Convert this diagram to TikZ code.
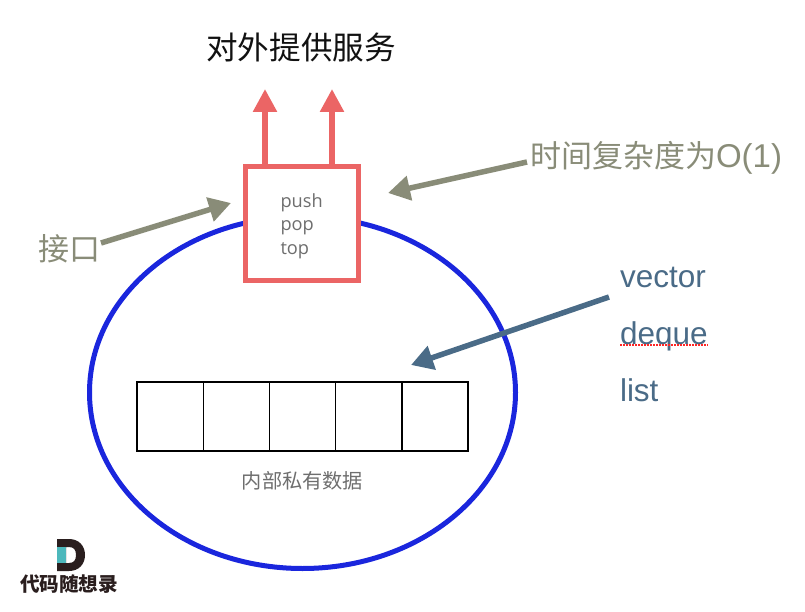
\documentclass[tikz,border=0pt]{standalone}
\usepackage{fontspec}
\setmainfont{Liberation Sans}
\newfontfamily\cjk{Noto Sans CJK SC}
\newfontfamily\labelfont{Open Sans}
\usetikzlibrary{arrows.meta,positioning,shapes.geometric}
\definecolor{ink}{HTML}{111111}
\definecolor{olive}{HTML}{898C78}
\definecolor{slate}{HTML}{4A6B87}
\definecolor{coral}{HTML}{EB6565}
\definecolor{ring}{HTML}{1A26DD}
\definecolor{muted}{HTML}{6E6E6E}
\definecolor{logoDark}{HTML}{2A1E1E}
\definecolor{logoTeal}{HTML}{4DB8BC}
\tikzset{
  base/.style={inner sep=0pt, outer sep=0pt},
  title/.style={base, font=\cjk\fontsize{31.6}{36}\selectfont, text=ink},
  note/.style={base, font=\cjk\fontsize{31}{36}\selectfont, text=olive},
  impl/.style={base, font=\fontsize{31.5}{36}\selectfont, text=slate, anchor=west},
  small/.style={base, font=\cjk\fontsize{20.2}{24}\selectfont, text=muted},
  cell/.style={base, draw=black, line width=1.4pt, minimum width=66.2pt, minimum height=69pt},
  iface/.style={base, draw=coral, line width=5pt, fill=white, minimum width=113pt, minimum height=113pt},
  uparrow/.style={-{Triangle[length=23pt,width=23pt]}, line width=5.5pt, draw=coral},
  arrow/.style={-{Triangle[length=22pt,width=24pt]}, line width=5.5pt, draw=olive},
}
\begin{document}
\begin{tikzpicture}[x=1pt,y=-1pt]
  \useasboundingbox (0,0) rectangle (805,612);
  \node[base, draw=ring, line width=5pt, ellipse, minimum width=426pt, minimum height=352pt] (heap) at (302.5,392.5) {};
  \node[iface] (iface) at (302,223.5) {};
  \node[base, font=\labelfont\fontsize{18.2}{23.5}\selectfont, text=muted, align=left, anchor=west] (ops) at (280.5,226) {push\\pop\\top};

  \node[title] (service) at (301,47) {对外提供服务};
  \node[note,anchor=west] (cost) at (530,158) {时间复杂度为{\fontspec{Liberation Sans}\fontsize{33}{36}\selectfont O(1)}};
  \node[note,anchor=west] (port) at (38,249) {接口};
  \node[impl] (vector) at (620,277) {vector};
  \node[impl] (deque) at (620,336) {deque};
  \node[impl] (list) at (620,390) {list};
  \node[small] (inner) at (302.5,481) {内部私有数据};

  \node[cell] (c1) at (170.1,416.5) {};
  \node[cell,right=0pt of c1] (c2) {};
  \node[cell,right=0pt of c2] (c3) {};
  \node[cell,right=0pt of c3] (c4) {};
  \node[cell,right=0pt of c4] (c5) {};

  \coordinate (tipA) at (265,89);
  \coordinate (tipB) at (332,89);
  \coordinate (tailC) at (527,162);
  \coordinate (tipC) at (388,193);
  \coordinate (tailP) at (101,243);
  \coordinate (tipP) at (231,203);
  \coordinate (tailV) at (609,297);
  \coordinate (tipV) at (411,365);

  \draw[uparrow] (iface.north -| tipA) -- (tipA);
  \draw[uparrow] (iface.north -| tipB) -- (tipB);
  \draw[arrow] (tailC) -- (tipC);
  \draw[arrow] (tailP) -- (tipP);
  \draw[arrow,draw=slate] (tailV) -- (tipV);

  \coordinate (wavyL) at (620,345);
  \coordinate (wavyR) at (708,345);
  \draw[red!85!white, line width=1.2pt, dash pattern=on 1.5pt off 1.5pt] (wavyL) -- (wavyR);

  % logo
  \fill[logoDark,even odd rule] (57,539) -- (69,539) .. controls (79,539) and (85,546) .. (85,555) .. controls (85,564) and (79,571) .. (69,571) -- (57,571) -- cycle
    (66,547) -- (66,563) -- (69,563) .. controls (74,563) and (76,560) .. (76,555) .. controls (76,550) and (74,547) .. (69,547) -- cycle;
  \fill[logoTeal] (57,547) rectangle (66,563);
  \node[base, font=\cjk\bfseries\fontsize{19.6}{22}\selectfont, text=logoDark] (logo) at (69,584) {代码随想录};
\end{tikzpicture}
\end{document}
